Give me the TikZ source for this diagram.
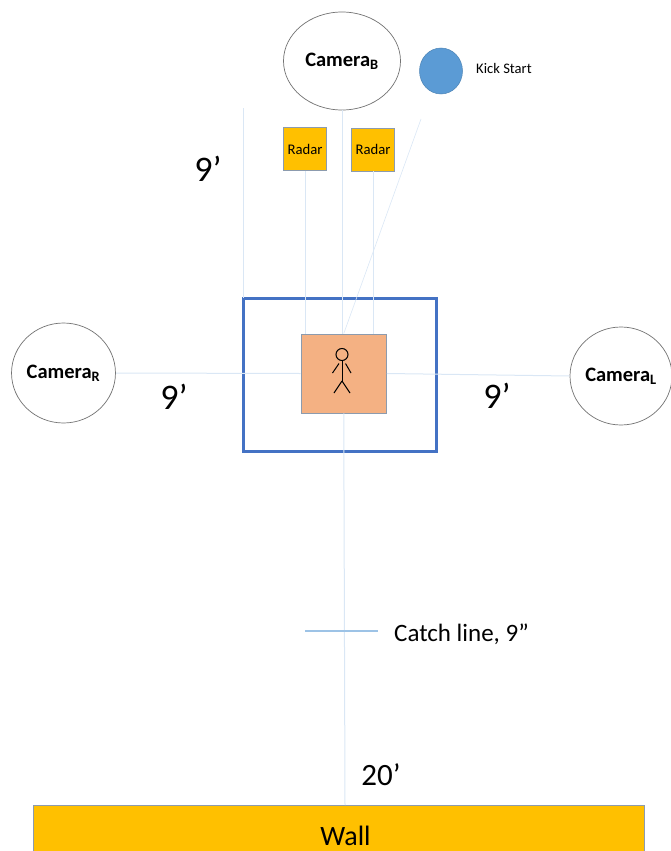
\documentclass[tikz,border=0pt]{standalone}
\usepackage{fontspec}
\setmainfont{Carlito}
\usepackage{xcolor}
\usepackage{tikz}
\usetikzlibrary{shapes.geometric}

\definecolor{radarfill}{HTML}{FFC000}
\definecolor{kickfill}{HTML}{5B9BD5}
\definecolor{playerfill}{HTML}{F4B183}
\definecolor{zoneline}{HTML}{4472C4}
\definecolor{edgegray}{HTML}{8C9BAE}
\definecolor{sightline}{HTML}{DAE7F5}
\definecolor{catchcolor}{HTML}{9DC3E6}

\begin{document}
\begin{tikzpicture}[
    x=1pt, y=-1pt,
    camera/.style={ellipse, draw=black!55, line width=0.7pt, fill=white, inner sep=0pt, font=\fontsize{20.5}{24}\selectfont\bfseries},
    radar/.style={rectangle, draw=edgegray, line width=0.9pt, fill=radarfill, minimum size=43pt, inner sep=0pt, font=\fontsize{14.7}{17}\selectfont},
    sight/.style={draw=sightline, line width=1pt},
    dist/.style={inner sep=0pt, font=\fontsize{36}{40}\selectfont},
    limb/.style={draw=black, line width=1pt}
]

\useasboundingbox (0,0) rectangle (670,851);

\coordinate (leftTop) at (243,108);
\coordinate (leftBot) at (243,298);
\coordinate (kickEnd) at (421,119);
\coordinate (wallHit) at (345,805);
\coordinate (catchA) at (305,631);
\coordinate (catchB) at (378,631);

\node[camera, minimum width=117pt, minimum height=98pt] (camB) at (342,61) {Camera\textsubscript{B}};
\node[camera, minimum width=103pt, minimum height=100pt] (camR) at (63.5,373) {Camera\textsubscript{R}};
\node[camera, minimum width=102pt, minimum height=98pt] (camL) at (621,376) {Camera\textsubscript{L}};
\node[ellipse, fill=kickfill, draw=kickfill!85!black, line width=0.5pt, minimum width=43pt, minimum height=46pt, inner sep=0pt] (kick) at (441,71) {};
\node[inner sep=0pt, anchor=west, font=\fontsize{14.6}{17}\selectfont] (kickLabel) at (476,68) {Kick Start};

\node[radar] (radarL) at (305,149) {Radar};
\node[radar] (radarR) at (373,149.5) {Radar};

\node[rectangle, draw=zoneline, line width=3pt, minimum width=193pt, minimum height=153pt, inner sep=0pt] (zone) at (339.5,374.5) {};
\node[rectangle, draw=edgegray, line width=0.9pt, fill=playerfill, minimum width=85.5pt, minimum height=79pt, inner sep=0pt] (player) at (343.75,373.5) {};

\node[rectangle, draw=edgegray, line width=0.7pt, fill=radarfill, minimum width=611pt, minimum height=46pt, inner sep=0pt] (wall) at (338.5,828) {};
\node[inner sep=0pt, font=\fontsize{28}{32}\selectfont] (wallLabel) at (345.5,836) {Wall};

\draw[sight] (leftTop) -- (leftBot);
\draw[sight] (radarL.south) -- (radarL.south |- player.north);
\draw[sight] (radarR.south) -- (radarR.south |- player.north);
\draw[sight] (camB.south) -- (camB.south |- player.north);
\draw[sight, line width=0.6pt] (kickEnd) -- (player.north);
\draw[sight] (camR.east) -- (player.west);
\draw[sight] (player.east) -- (camL.west);
\draw[sight] (player.south) -- (wallHit);
\draw[draw=catchcolor, line width=1.1pt] (catchA) -- (catchB);

% stick figure
\node[circle, draw=black, line width=1pt, minimum size=12pt, inner sep=0pt] (head) at (342,354.5) {};
\coordinate (hip) at (342,381);
\coordinate (armL) at (332.5,373);
\coordinate (armR) at (351,373);
\coordinate (legL) at (334,393);
\coordinate (legR) at (350,393);
\draw[limb] (head.south) -- (hip);
\draw[limb] (339,363.5) -- (armL);
\draw[limb] (345.5,363.5) -- (armR);
\draw[limb] (hip) -- (legL);
\draw[limb] (hip) -- (legR);

\node[dist] (distB) at (208,169) {9’};
\node[dist] (distR) at (174,397) {9’};
\node[dist] (distL) at (497,396) {9’};
\node[dist, font=\fontsize{31}{35}\selectfont] (distWall) at (381,775) {20’};
\node[inner sep=0pt, anchor=west, font=\fontsize{25}{29}\selectfont] (catchLabel) at (394,634) {Catch line, 9”};

\end{tikzpicture}
\end{document}
